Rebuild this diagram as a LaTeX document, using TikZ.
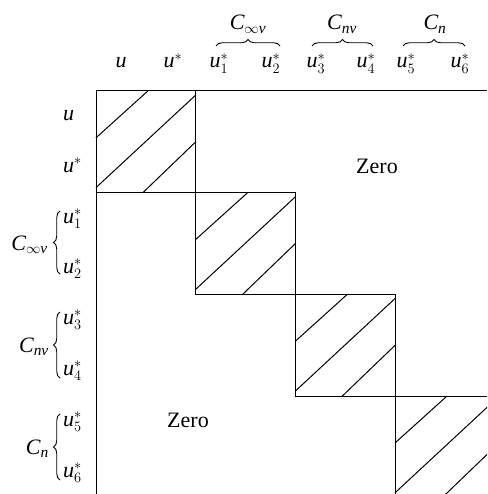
\documentclass[tikz,border=0pt]{standalone}
\usepackage{fontspec}
\setmainfont{Liberation Serif}
\usetikzlibrary{decorations.pathreplacing}
\begin{document}
\begin{tikzpicture}[x=1pt,y=-1pt,
  lab/.style={font=\fontsize{22}{22}\selectfont, inner sep=0pt},
  clab/.style={font=\fontsize{22}{22}\selectfont, inner sep=0pt},
  zero/.style={font=\fontsize{22}{22}\selectfont, inner sep=0pt},
  frame/.style={line width=1pt},
  hatch/.style={line width=1pt},
  brc/.style={decorate, decoration={brace, amplitude=6.5pt}, line width=0.9pt}]
\useasboundingbox (0,0) rectangle (487,494);
\begin{scope}
\clip (0,0) rectangle (487,494);
\coordinate (tl) at (96,91);
\coordinate (tr) at (487,91);
\coordinate (bl) at (96,494);
\draw[frame] (bl) -- (tl) -- (tr);
\foreach \i in {0,1,2,3} {
  \pgfmathsetmacro\xa{96+99.7*\i}
  \pgfmathsetmacro\yb{91+101.7*(\i+1)}
  \begin{scope}[shift={(\xa,\yb)}, x=99.7pt, y=101.7pt]
    \coordinate (b\i) at (0,0);
    \draw[frame] (b\i) rectangle (1,1);
    \draw[hatch] (0,0.54) -- (0.52,1);
    \draw[hatch] (0,0.05) -- (1,0.96);
    \draw[hatch] (0.47,0) -- (1,0.5);
  \end{scope}
}
\end{scope}
% column labels
\node[lab, anchor=base] (cu)  at (121,68) {$\mathit{u}$};
\node[lab, anchor=base] (cus) at (173,68) {$\mathit{u}^{*}$};
\node[lab, anchor=base] (c1)  at (219,68) {$\mathit{u}^{*}_{1}$};
\node[lab, anchor=base] (c2)  at (271,68) {$\mathit{u}^{*}_{2}$};
\node[lab, anchor=base] (c3)  at (316,68) {$\mathit{u}^{*}_{3}$};
\node[lab, anchor=base] (c4)  at (366,68) {$\mathit{u}^{*}_{4}$};
\node[lab, anchor=base] (c5)  at (406,68) {$\mathit{u}^{*}_{5}$};
\node[lab, anchor=base] (c6)  at (460,68) {$\mathit{u}^{*}_{6}$};
% top braces
\coordinate (tb1a) at (216,46); \coordinate (tb1b) at (280,46);
\coordinate (tb2a) at (312,46); \coordinate (tb2b) at (373,46);
\coordinate (tb3a) at (403,46); \coordinate (tb3b) at (465,46);
\draw[brc] (tb1a) -- (tb1b);
\draw[brc] (tb2a) -- (tb2b);
\draw[brc] (tb3a) -- (tb3b);
\node[clab, anchor=base] (tc1) at (248,30) {$\mathit{C}_{\infty \mathit{v}}$};
\node[clab, anchor=base] (tc2) at (342,30) {$\mathit{C}_{\mathit{nv}}$};
\node[clab, anchor=base] (tc3) at (435,30) {$\mathit{C}_{\mathit{n}}$};
% row labels
\node[lab, anchor=base west] (ru)  at (63,121) {$\mathit{u}$};
\node[lab, anchor=base west] (rus) at (63,172) {$\mathit{u}^{*}$};
\node[lab, anchor=base west] (r1)  at (63,223) {$\mathit{u}^{*}_{1}$};
\node[lab, anchor=base west] (r2)  at (63,273.5) {$\mathit{u}^{*}_{2}$};
\node[lab, anchor=base west] (r3)  at (63,324.5) {$\mathit{u}^{*}_{3}$};
\node[lab, anchor=base west] (r4)  at (63,375) {$\mathit{u}^{*}_{4}$};
\node[lab, anchor=base west] (r5)  at (63,426) {$\mathit{u}^{*}_{5}$};
\node[lab, anchor=base west] (r6)  at (63,477) {$\mathit{u}^{*}_{6}$};
% left braces
\coordinate (lb1a) at (60,274); \coordinate (lb1b) at (60,211);
\coordinate (lb2a) at (60,378); \coordinate (lb2b) at (60,312);
\coordinate (lb3a) at (60,480); \coordinate (lb3b) at (60,414);
\draw[brc] (lb1a) -- (lb1b);
\draw[brc] (lb2a) -- (lb2b);
\draw[brc] (lb3a) -- (lb3b);
\node[clab, anchor=base east] (lc1) at (48,250) {$\mathit{C}_{\infty \mathit{v}}$};
\node[clab, anchor=base east] (lc2) at (49,352) {$\mathit{C}_{\mathit{nv}}$};
\node[clab, anchor=base east] (lc3) at (49,454) {$\mathit{C}_{\mathit{n}}$};
% zero labels
\node[zero] (z1) at (377,166) {Zero};
\node[zero] (z2) at (188,420) {Zero};
\end{tikzpicture}
\end{document}
